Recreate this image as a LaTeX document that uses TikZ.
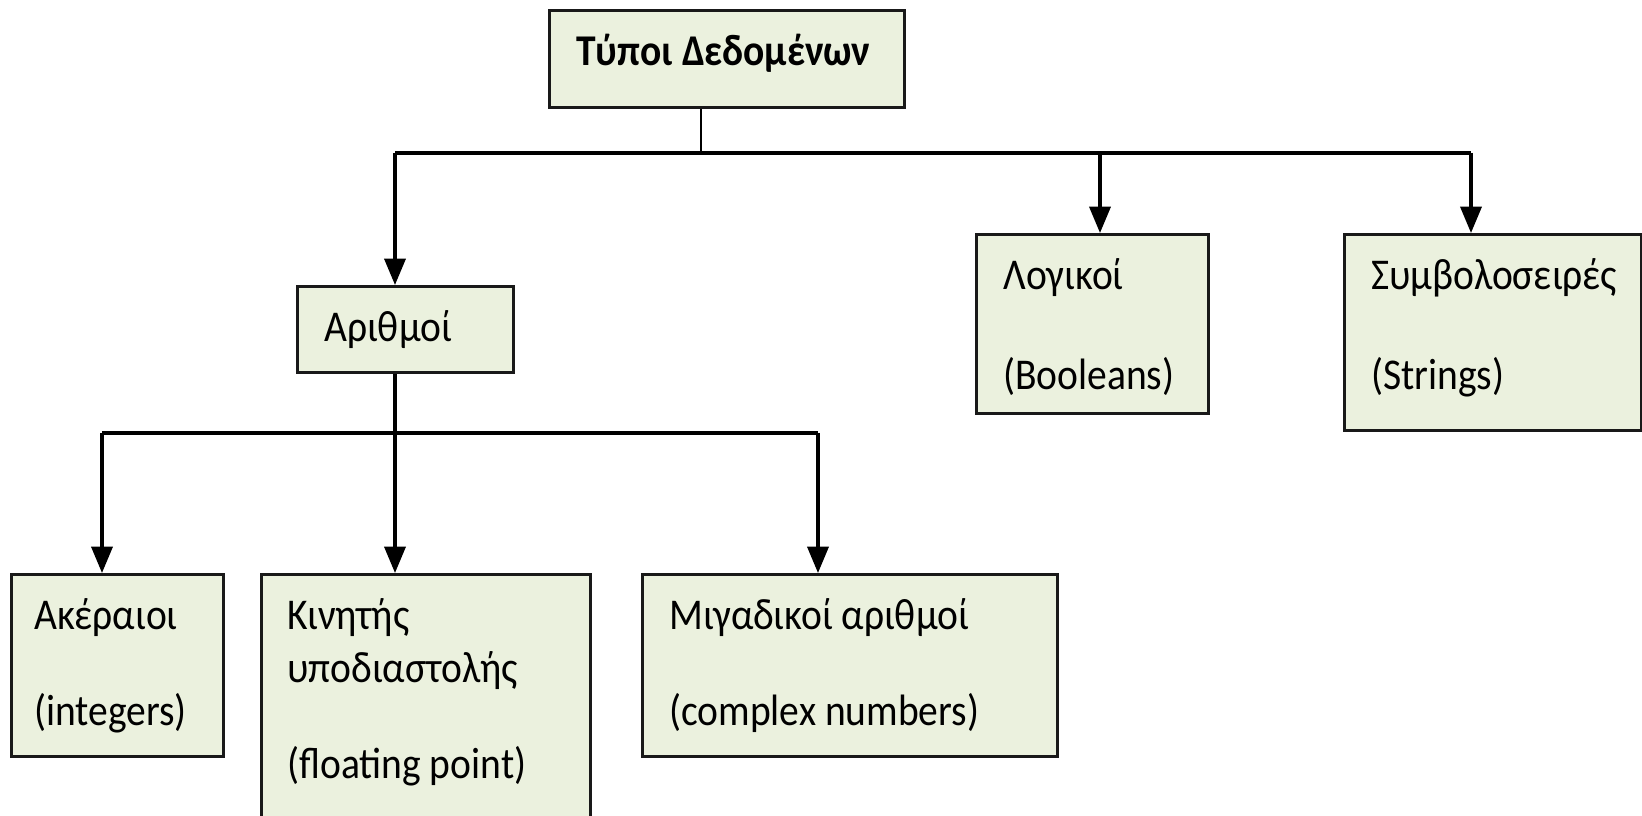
\documentclass[tikz,border=0pt]{standalone}
\usepackage{fontspec}
\setmainfont{Carlito}[FakeStretch=0.9]
\usepackage{tikz}
\usepackage{xcolor}
\usetikzlibrary{arrows.meta}

\definecolor{boxfill}{RGB}{235,241,222}

\tikzset{
  box/.style={draw=black!90, line width=1.8pt, fill=boxfill, anchor=north west, inner sep=0pt},
  txt/.style={anchor=north west, align=left, inner sep=0pt, xshift=0.56cm, yshift=-0.5cm,
    font=\fontsize{25}{30}\selectfont},
  bus/.style={line width=1.9pt, black},
  arr/.style={line width=1.9pt, black, -{Triangle[width=12pt,length=15pt]}}
}

\begin{document}
\begin{tikzpicture}
        \useasboundingbox (0,0) rectangle (32.84,-16.32);
        % Root box
        \node[box, minimum width=7.10cm, minimum height=1.94cm,
          label={[txt, font=\fontsize{25}{30}\selectfont\bfseries]north west:{Τύποι Δεδομένων}}] (typ) at (10.96,-0.18) {};
        % First level
        \node[box, minimum width=4.32cm, minimum height=1.72cm,
          label={[txt]north west:{Αριθμοί}}] (num) at (5.92,-5.70) {};
        \node[box, minimum width=4.64cm, minimum height=3.58cm,
          label={[txt]north west:{Λογικοί\\[27pt](Booleans)}}] (bool) at (19.50,-4.66) {};
        \node[box, minimum width=5.94cm, minimum height=3.92cm,
          label={[txt]north west:{Συμβολοσειρές\\[27pt](Strings)}}] (str) at (26.86,-4.66) {};
        % Second level (numbers)
        \node[box, minimum width=4.24cm, minimum height=3.64cm,
          label={[txt, xshift=-0.08cm]north west:{Ακέραιοι\\[25pt](integers)}}] (ints) at (0.20,-11.46) {};
        \node[box, minimum width=6.58cm, minimum height=5.80cm,
          label={[txt, xshift=-0.02cm]north west:{Κινητής\\υποδιαστολής\\[25pt](floating point)}}] (flt) at (5.20,-11.46) {};
        \node[box, minimum width=8.30cm, minimum height=3.64cm,
          label={[txt]north west:{Μιγαδικοί αριθμοί\\[25pt](complex numbers)}}] (cpx) at (12.82,-11.46) {};
        % Bus under the root
        \coordinate (s0) at (14.02,-3.06);
        \coordinate (b1l) at (7.90,-3.06);
        \coordinate (b1m) at (22.00,-3.06);
        \coordinate (b1r) at (29.42,-3.06);
        \draw[line width=1.2pt, black] (typ.south -| s0) -- (s0);
        \draw[bus] (b1l) -- (b1r);
        \draw[arr] (b1l) -- (b1l |- num.north);
        \draw[arr] (b1m) -- (b1m |- bool.north);
        \draw[arr] (b1r) -- (b1r |- str.north);
        % Bus under Αριθμοί
        \coordinate (b2l) at (2.04,-8.66);
        \coordinate (b2m) at (7.90,-8.66);
        \coordinate (b2r) at (16.36,-8.66);
        \draw[bus] (b2l) -- (b2r);
        \draw[arr] (num.south -| b2m) -- (b2m |- flt.north);
        \draw[arr] (b2l) -- (b2l |- ints.north);
        \draw[arr] (b2r) -- (b2r |- cpx.north);
\end{tikzpicture}
\end{document}
